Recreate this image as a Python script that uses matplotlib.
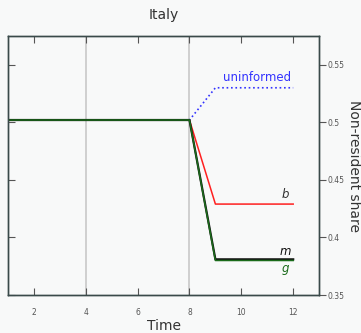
import matplotlib
matplotlib.use('Agg')
import matplotlib.pyplot as plt

t = [1, 2, 3, 4, 5, 6, 7, 8, 9, 10, 11, 12]
uninformed = [0.502, 0.502, 0.502, 0.502, 0.502, 0.502, 0.502, 0.502, 0.530, 0.530, 0.530, 0.530]
b = [0.502, 0.502, 0.502, 0.502, 0.502, 0.502, 0.502, 0.502, 0.429, 0.429, 0.429, 0.429]
m = [0.502, 0.502, 0.502, 0.502, 0.502, 0.502, 0.502, 0.502, 0.381, 0.381, 0.381, 0.381]
g = [0.502, 0.502, 0.502, 0.502, 0.502, 0.502, 0.502, 0.502, 0.380, 0.380, 0.380, 0.380]

bg = '#f8f9f9'
fig = plt.figure(figsize=(3.61, 3.33), dpi=100, facecolor=bg)
ax = fig.add_axes([0.022, 0.114, 0.862, 0.778], facecolor=bg)

for xv in [4, 8]:
    ax.axvline(xv, color='#c8c8c8', lw=1.2, zorder=0)

ax.plot(t, uninformed, color='#3333ff', ls=':', lw=1.2)
ax.plot(t, b, color='#ff2020', lw=1.1)
ax.plot(t, m, color='#111111', lw=1.6)
ax.plot(t, g, color='#1a6b1a', lw=1.1)

ax.text(10.6, 0.536, 'uninformed', color='#3333ff', fontsize=8.5, ha='center')
ax.text(11.7, 0.4345, '$b$', color='#333333', fontsize=8.5, ha='center')
ax.text(11.7, 0.3845, '$m$', color='#111111', fontsize=8.5, ha='center')
ax.text(11.7, 0.370, '$g$', color='#1a6b1a', fontsize=8.5, ha='center')

ax.set_xlim(1, 13)
ax.set_ylim(0.35, 0.575)
ax.set_xticks([2, 4, 6, 8, 10, 12])
ax.set_yticks([0.35, 0.4, 0.45, 0.5, 0.55])

ax.tick_params(axis='x', direction='in', top=True, bottom=True, length=5,
               labelsize=5.5, labelcolor='#555555', color='#555555', pad=9)
ax.tick_params(axis='y', direction='in', left=True, right=False, length=5,
               labelleft=False, color='#555555')
ax2 = ax.twinx()
ax2.set_ylim(ax.get_ylim())
ax2.set_yticks([0.35, 0.4, 0.45, 0.5, 0.55])
ax2.set_yticklabels(['0.35', '0.4', '0.45', '0.5', '0.55'])
ax2.tick_params(axis='y', direction='out', length=5, labelsize=5.5,
                labelcolor='#555555', color='#555555', pad=1)
for a in (ax, ax2):
    for s in a.spines.values():
        s.set_color('#3a4a4a')
        s.set_linewidth(1.0)

ax.set_xlabel('Time', fontsize=10, color='#333333', labelpad=2)
ax2.set_ylabel('Non-resident share', fontsize=10, color='#333333', rotation=-90, labelpad=12)
ax.set_title('Italy', fontsize=10, color='#333333', pad=12)

fig.savefig('out.png', dpi=100, facecolor=bg)
